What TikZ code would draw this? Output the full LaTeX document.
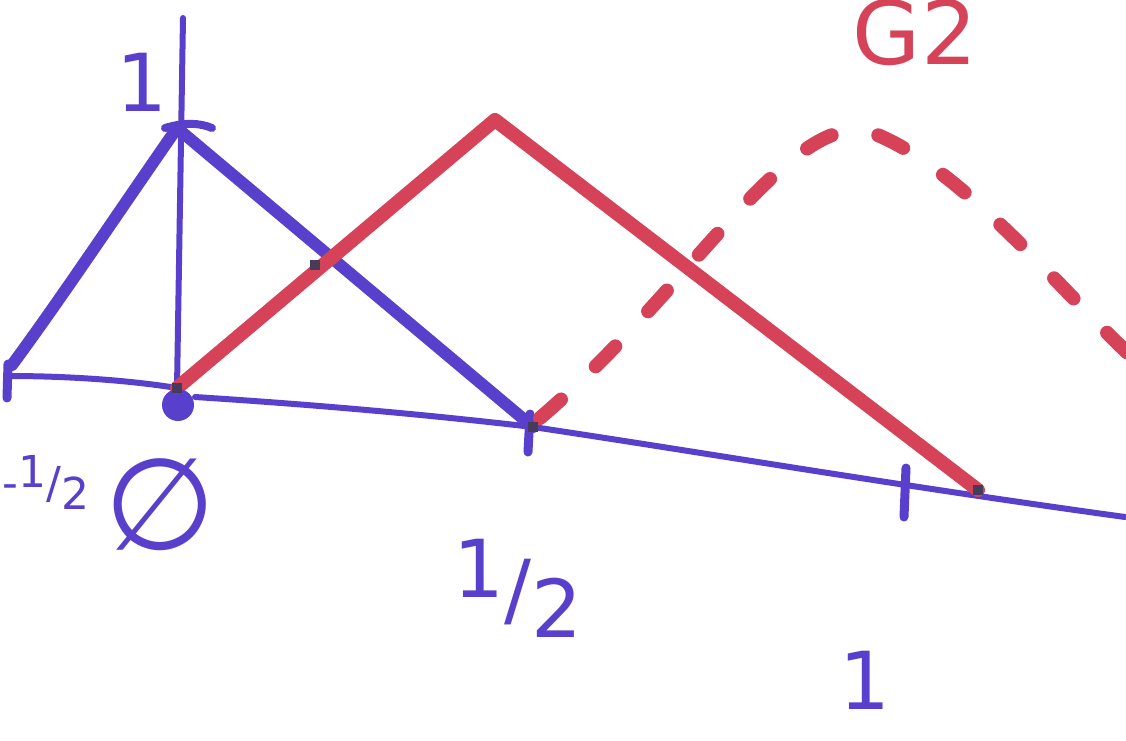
\documentclass[tikz,border=0pt]{standalone}
\usepackage{fontspec}
\setmainfont{DejaVu Sans}
\definecolor{blueink}{RGB}{88,64,205}
\definecolor{redink}{RGB}{214,66,88}
\definecolor{darkink}{RGB}{70,60,90}
\tikzset{
  axisline/.style={blueink,line width=3pt,line cap=round,line join=round},
  triline/.style={blueink,line width=6pt,line cap=round,line join=round},
  redline/.style={redink,line width=7pt,line cap=round,line join=round},
  reddash/.style={redink,line width=7pt,line cap=round,dash pattern=on 14pt off 24pt},
  tickmark/.style={blueink,line width=4.5pt,line cap=round},
  bluelabel/.style={blueink,font=\fontsize{40}{44}\selectfont,inner sep=0pt},
  redlabel/.style={redink,font=\fontsize{44}{48}\selectfont,inner sep=0pt},
  meet/.style={fill=darkink,inner sep=0pt,minimum size=5pt,rectangle}
}
\newcommand{\halflabel}{\raisebox{0.25em}{1}/\raisebox{-0.25em}{2}}
\begin{document}
\begin{tikzpicture}[x=0.5pt,y=-0.5pt]
\useasboundingbox (0,0) rectangle (1126,740);
\clip (0,0) rectangle (1126,740);
% coordinates
\coordinate (axtop) at (183,18);
\coordinate (origin) at (177,388);
\coordinate (lefttick) at (8,376);
\coordinate (bluetop) at (177,128);
\coordinate (blueleft) at (12,365);
\coordinate (halfpt) at (533,427);
\coordinate (redtop) at (495,120);
\coordinate (redend) at (978,490);
\coordinate (xend) at (1125,517);
\coordinate (cross) at (315,265);
% axes
\draw[axisline] (axtop) -- (origin);
\draw[axisline] (lefttick) .. controls (80,376) and (140,382) .. (origin);
\draw[tickmark] (8,364) -- (7,398);
\draw[axisline] (195,397) .. controls (320,405) and (430,415) .. (halfpt)
  .. controls (700,452) and (900,486) .. (xend);
\draw[tickmark] (530,414) -- (528,452);
\draw[tickmark] (906,468) -- (904,517);
% blue triangle
\draw[triline] (blueleft) .. controls (60,300) and (120,210) .. (bluetop) -- (halfpt);
\draw[blueink,line width=4pt,line cap=round] (165,128) .. controls (185,122) and (200,123) .. (212,128);
% red graph
\draw[redline] (origin) -- (redtop) -- (redend);
\draw[reddash] (540,418) .. controls (690,290) and (790,110) .. (870,132)
  .. controls (960,165) and (1060,290) .. (1135,360);
% origin dot
\fill[blueink] (178,405) circle (8pt);
% intersection marks
\node[meet] (m1) at (origin) {};
\node[meet] (m2) at (cross) {};
\node[meet] (m3) at (halfpt) {};
\node[meet] (m4) at (redend) {};
% labels
\node[bluelabel] (lone) at (142,82) {1};
\node[blueink,font=\fontsize{22}{26}\selectfont,inner sep=0pt,anchor=west] (lmhalf) at (2,482) {-\halflabel};
\node[blueink,font=\fontsize{64}{68}\selectfont,inner sep=0pt] (lempty) at (160,505) {∅};
\node[blueink,font=\fontsize{40}{44}\selectfont,inner sep=0pt] (lhalf) at (518,588) {\halflabel};
\node[bluelabel] (lonex) at (865,680) {1};
\node[redlabel] (lg) at (915,32) {G2};
\end{tikzpicture}
\end{document}
